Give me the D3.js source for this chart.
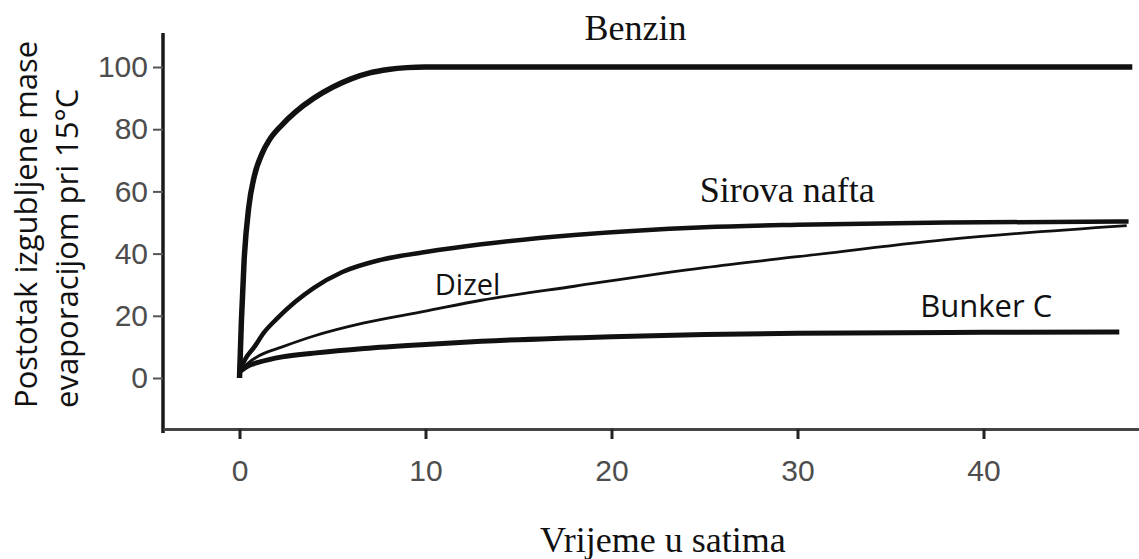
<!DOCTYPE html>
<html>
<head>
<meta charset="utf-8">
<script src="https://cdn.jsdelivr.net/npm/d3@7"></script>
<style>
  body { margin: 0; background: #fff; }
  .tick text { font-family: "Liberation Sans", Arial, sans-serif; fill: #4d4d4d; }
</style>
</head>
<body>
<svg id="chart" width="1139" height="559"></svg>
<script>
// hours since spill
var benzinT = [0, 0.1, 0.25, 0.5, 0.8, 1.2, 1.6, 2.3, 3, 4, 5, 6, 7, 8, 9, 10, 48];
var benzinV = [0, 18, 38, 55, 65, 72, 76.5, 81.5, 85.5, 90, 93.5, 96.2, 98.1, 99.2, 99.8, 100, 100];

var naftaT = [0, 0.3, 0.8, 1.3, 2, 3, 4, 5.5, 7.6, 10, 13, 18, 25, 30, 38, 47.8];
var naftaV = [2, 6, 10, 14.5, 19, 24.5, 29, 34, 38, 40.5, 43, 46, 48.5, 49.3, 50, 50.3];

var dizelT = [0, 0.5, 1, 2.3, 4, 6.7, 10, 13, 18, 25, 30, 38, 47.7];
var dizelV = [2, 5, 7, 10, 13.5, 17.7, 21.5, 25, 29.5, 35.5, 39, 44.5, 49];

var bunkerT = [0, 0.5, 1, 2.3, 4, 6.7, 10, 13, 20, 25, 30, 40, 47.3];
var bunkerV = [2, 4, 5, 6.8, 8, 9.5, 10.8, 11.8, 13.3, 14, 14.4, 14.7, 14.8];

var xTicks = [0, 10, 20, 30, 40];
var yTicks = [0, 20, 40, 60, 80, 100];

var svg = d3.select("#chart");

var plotL = 163, plotR = 1139, plotT = 33, plotB = 429;

var x = d3.scaleLinear()
  .domain([(plotL - 239.5) / 18.6, (plotR - 239.5) / 18.6])
  .range([plotL, plotR]);

var y = d3.scaleLinear()
  .domain([(378 - plotB) / 3.11, (378 - plotT) / 3.11])
  .range([plotB, plotT]);

// curves
var series = [
  {t: benzinT, v: benzinV, w: 5.5},
  {t: naftaT, v: naftaV, w: 4.5},
  {t: dizelT, v: dizelV, w: 2.8},
  {t: bunkerT, v: bunkerV, w: 5}
];

var line = d3.line()
  .x(function(d) { return x(d[0]); })
  .y(function(d) { return y(d[1]); })
  .curve(d3.curveMonotoneX);

series.forEach(function(s) {
  svg.append("path")
    .datum(d3.zip(s.t, s.v))
    .attr("fill", "none")
    .attr("stroke", "#111")
    .attr("stroke-width", s.w)
    .attr("stroke-linejoin", "round")
    .attr("d", line);
});

// axes
var yAxis = svg.append("g")
  .attr("transform", "translate(" + plotL + ",0)")
  .call(d3.axisLeft(y).tickValues(yTicks).tickSize(10).tickSizeOuter(0).tickPadding(5));
yAxis.select(".domain").attr("stroke", "#1a1a1a").attr("stroke-width", 3.5)
  .attr("d", "M0," + plotT + "V" + (plotB + 4));
yAxis.selectAll(".tick line").attr("stroke", "#555").attr("stroke-width", 2);
yAxis.selectAll(".tick text").style("font-size", "30px");

var xAxis = svg.append("g")
  .attr("transform", "translate(0," + plotB + ")")
  .call(d3.axisBottom(x).tickValues(xTicks).tickSize(10).tickSizeOuter(0).tickPadding(21));
xAxis.select(".domain").attr("stroke", "#444").attr("stroke-width", 3);
xAxis.selectAll(".tick line").attr("stroke", "#222").attr("stroke-width", 3);
xAxis.selectAll(".tick text").style("font-size", "30px");

// axis titles
var yTitle = svg.append("text")
  .attr("transform", "rotate(-90)")
  .attr("font-family", "'Open Sans', sans-serif")
  .attr("font-size", 31)
  .attr("fill", "#111")
  .attr("text-anchor", "start");
yTitle.append("tspan").attr("x", -408).attr("y", 37).text("Postotak izgubljene mase");
yTitle.append("tspan").attr("x", -408).attr("y", 78).text("evaporacijom pri 15°C");

svg.append("text")
  .attr("x", 540).attr("y", 552)
  .attr("font-family", "'Liberation Serif', 'Times New Roman', serif")
  .attr("font-size", 36)
  .attr("fill", "#111")
  .text("Vrijeme u satima");

// curve labels (positioned in data units)
var labels = [
  {text: "Benzin", t: 18.55, v: 108.7, serif: true, size: 36},
  {text: "Sirova nafta", t: 24.75, v: 56.6, serif: true, size: 36},
  {text: "Dizel", t: 10.5, v: 26.7, serif: false, size: 29},
  {text: "Bunker C", t: 36.6, v: 19.6, serif: false, size: 31}
];

svg.selectAll(".lbl")
  .data(labels)
  .enter().append("text")
  .attr("class", "lbl")
  .attr("x", function(d) { return x(d.t); })
  .attr("y", function(d) { return y(d.v); })
  .attr("font-family", function(d) { return d.serif ? "'Liberation Serif', serif" : "'Open Sans', sans-serif"; })
  .attr("font-size", function(d) { return d.size; })
  .attr("fill", "#111")
  .text(function(d) { return d.text; });
</script>
</body>
</html>
